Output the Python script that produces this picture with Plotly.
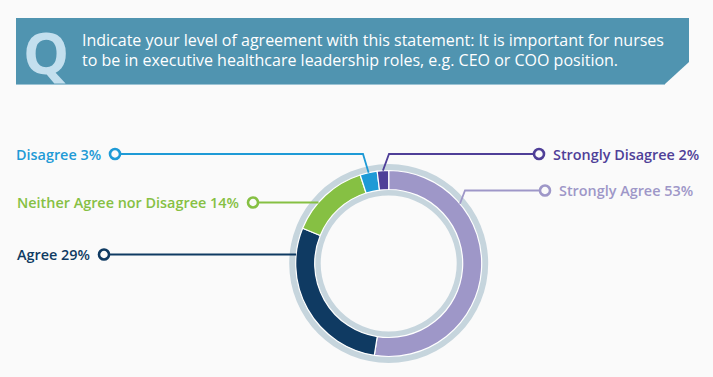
import math
import plotly.graph_objects as go

# ---------------- data ----------------
categories = ["Strongly Agree", "Agree", "Neither Agree nor Disagree", "Disagree", "Strongly Disagree"]
percent = [53, 29, 14, 3, 2]
colors = ["#9e97c8", "#0f3a62", "#86c043", "#1e9ad6", "#4f3f98"]
question_lines = [
    "Indicate your level of agreement with this statement: It is important for nurses",
    "to be in executive healthcare leadership roles, e.g. CEO or COO position.",
]

# ---------------- geometry / style ----------------
W, H = 713, 377
CX, CY = 388.7, 263.5
R_GRAY_OUT, R_GRAY_IN = 99.5, 68.0
R_COL_OUT, R_COL_IN = 93.0, 74.0
BG = "#fafafa"
GRAY = "#c6d5dd"
FONT = "Open Sans"


def domain(r):
    return dict(x=[(CX - r) / W, (CX + r) / W], y=[(H - CY - r) / H, (H - CY + r) / H])


def ring_point(angle_deg, r=R_COL_OUT):
    a = math.radians(angle_deg)
    return CX + r * math.sin(a), CY - r * math.cos(a)


def ring_at_y(y, side, r=R_COL_OUT):
    dy = y - CY
    return CX + side * math.sqrt(r * r - dy * dy), y


fig = go.Figure()

# gray background ring
fig.add_trace(go.Pie(values=[1], hole=R_GRAY_IN / R_GRAY_OUT, domain=domain(R_GRAY_OUT),
                     marker=dict(colors=[GRAY], line=dict(width=0)), textinfo="none",
                     hoverinfo="skip", showlegend=False, sort=False))
# coloured ring
fig.add_trace(go.Pie(labels=categories, values=percent, hole=R_COL_IN / R_COL_OUT,
                     domain=domain(R_COL_OUT), direction="clockwise", rotation=0, sort=False,
                     marker=dict(colors=colors, line=dict(color="white", width=1.2)),
                     textinfo="none", hoverinfo="label+percent", showlegend=False))

# slice angles (clockwise from 12 o'clock) derived from the data
total = sum(percent)
starts, acc = [], 0
for v in percent:
    starts.append(acc / total * 360)
    acc += v
mids = [s + v / total * 180 for s, v in zip(starts, percent)]

# label layout: (category index, side, label y, circle x, elbow x or None, ring end)
layout_spec = [
    (3, -1, 154.0, 115.0, 363.0, ("angle", mids[3])),
    (2, -1, 202.5, 253.0, None, ("y", None)),
    (1, -1, 254.5, 104.0, None, ("y", None)),
    (4, 1, 154.0, 539.0, 389.0, ("angle", mids[4])),
    (0, 1, 190.5, 545.0, 465.0, ("angle", 50.0)),
]

shapes = []
annotations = []
cx_pts, cy_pts, c_cols = [], [], []
for idx, side, ly, circ_x, elbow_x, end in layout_spec:
    col = colors[idx]
    if end[0] == "angle":
        ex, ey = ring_point(end[1])
    else:
        ex, ey = ring_at_y(ly, side)
    start_x = circ_x - side * 5
    if elbow_x is not None:
        path = f"M{start_x},{ly} L{elbow_x},{ly} L{ex},{ey}"
    else:
        path = f"M{start_x},{ly} L{ex},{ey}"
    shapes.append(dict(type="path", path=path, xref="x", yref="y",
                       line=dict(color=col, width=1.8), layer="above"))
    cx_pts.append(circ_x)
    cy_pts.append(ly)
    c_cols.append(col)
    text = f"{categories[idx]} {percent[idx]}%"
    annotations.append(dict(x=circ_x + side * 12, y=ly, xref="x", yref="y", text=text,
                            showarrow=False, xanchor="left" if side > 0 else "right",
                            yanchor="middle",
                            font=dict(family=FONT, size=14.4, color=col, weight=600)))

fig.add_trace(go.Scatter(x=cx_pts, y=cy_pts, mode="markers", hoverinfo="skip", showlegend=False,
                         marker=dict(size=10, color=BG, line=dict(color=c_cols, width=2.6))))

# header banner
shapes.insert(0, dict(type="path", path="M16,18 L689,18 L689,62 L665,84 L16,84 Z",
                      xref="x", yref="y", fillcolor="#5094b0", line=dict(width=0), layer="below"))
shapes.insert(1, dict(type="line", x0=16, x1=665, y0=84.5, y1=84.5, xref="x", yref="y",
                      line=dict(color="#9cc3d4", width=1), layer="below"))
annotations.append(dict(x=46, y=51, xref="x", yref="y", text="<b>Q</b>", showarrow=False,
                        xanchor="center", yanchor="middle",
                        font=dict(family=FONT, size=58, color="#c3dfee")))
for i, line in enumerate(question_lines):
    annotations.append(dict(x=80, y=40 + 20 * i, xref="x", yref="y", text=line, showarrow=False,
                            xanchor="left", yanchor="middle",
                            font=dict(family=FONT, size=16, color="white")))

fig.update_layout(
    width=W, height=H, margin=dict(l=0, r=0, t=0, b=0),
    paper_bgcolor=BG, plot_bgcolor=BG,
    xaxis=dict(range=[0, W], visible=False, fixedrange=True),
    yaxis=dict(range=[H, 0], visible=False, fixedrange=True),
    shapes=shapes, annotations=annotations, showlegend=False,
)

fig.write_html("out.html", config={"displayModeBar": False},
               post_script="document.body.style.margin='0';document.body.style.background='%s';" % BG)
